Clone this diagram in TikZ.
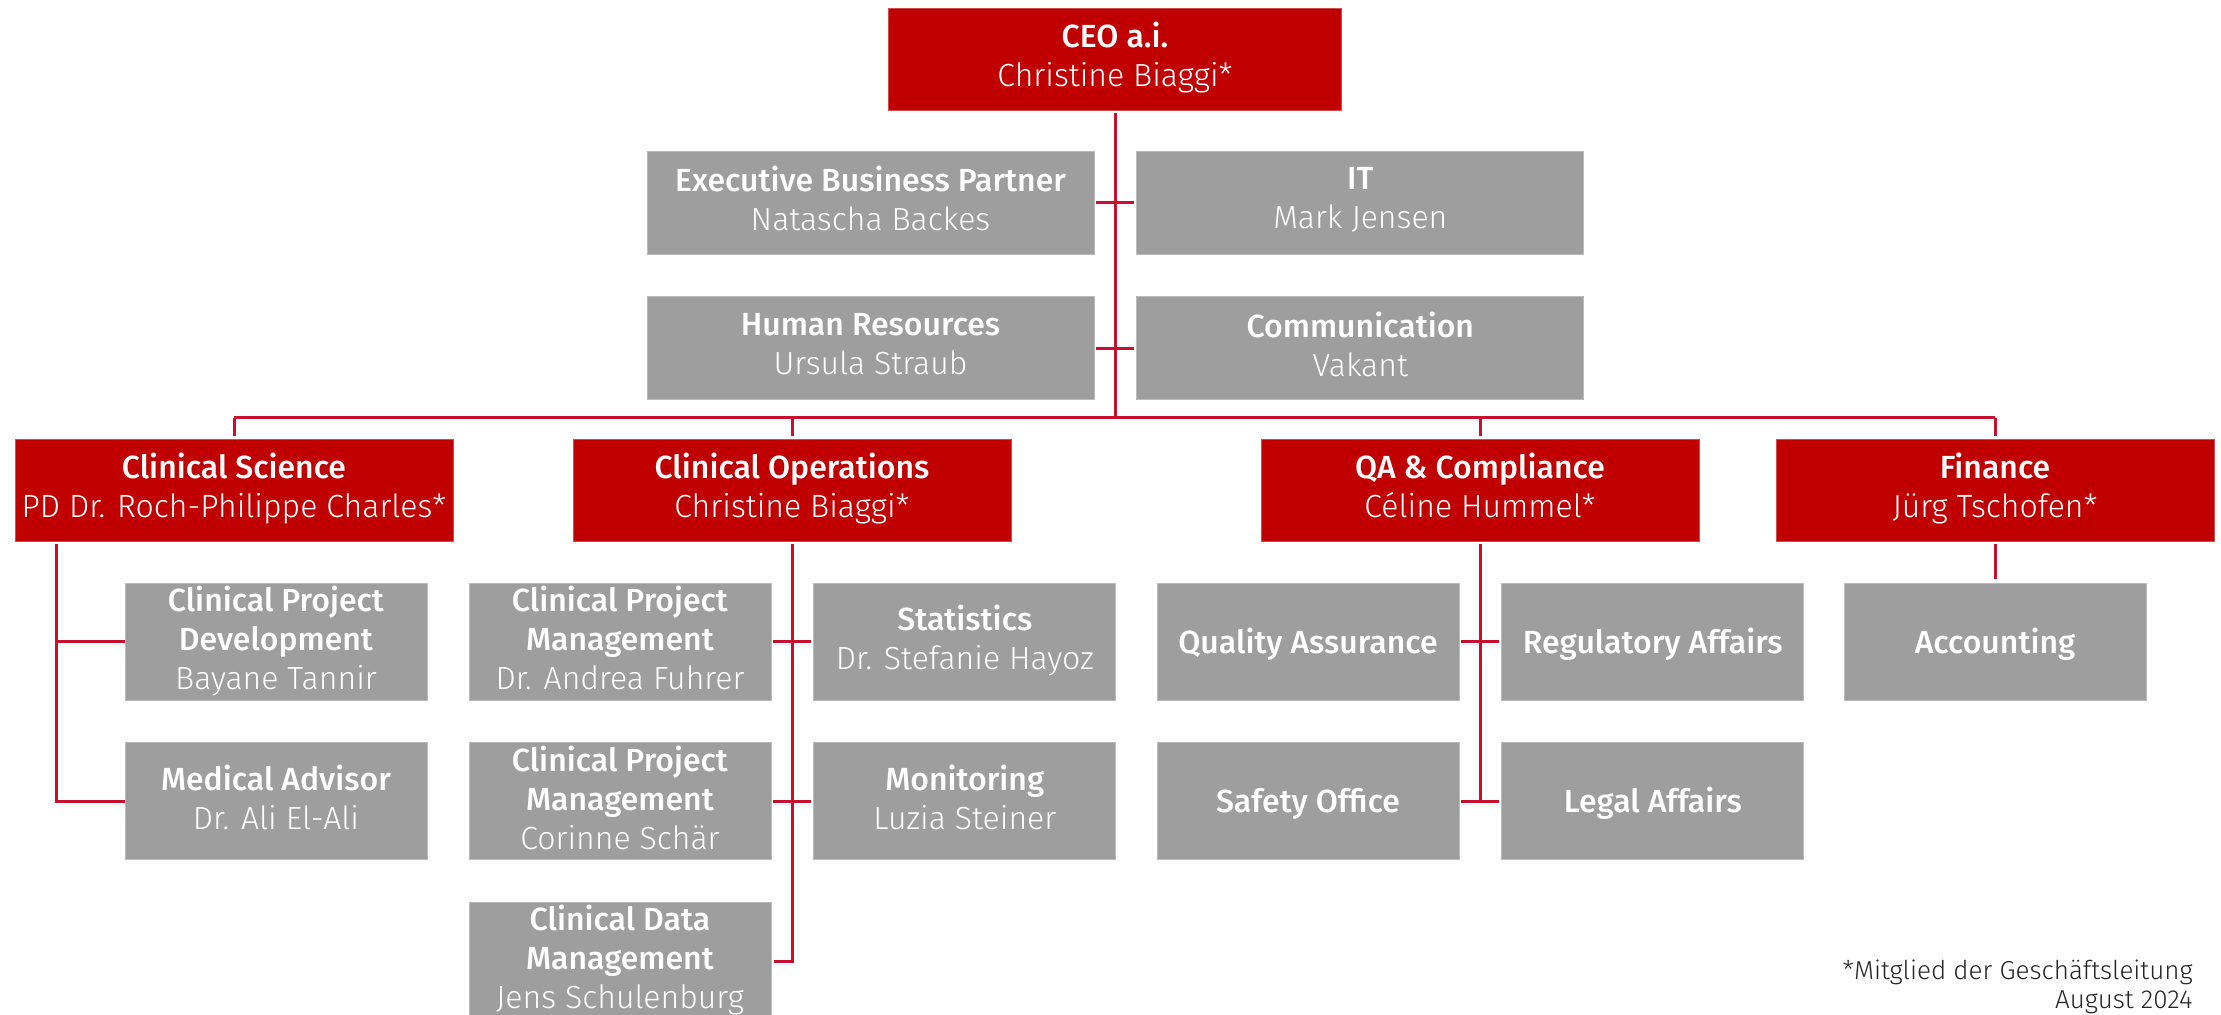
\documentclass[tikz,border=0pt]{standalone}
\usepackage{fontspec}
\setmainfont{Fira Sans Light}[BoldFont={Fira Sans Medium}]
\usetikzlibrary{positioning}

\definecolor{headred}{RGB}{192,0,0}
\definecolor{boxgray}{RGB}{158,158,158}
\definecolor{linkred}{RGB}{200,16,46}

\newcommand{\headstrut}{\rule[-4.5pt]{0pt}{23.5pt}}
\newcommand{\unitstrut}{\rule[-4pt]{0pt}{19.5pt}}

\begin{document}
\begin{tikzpicture}[
  x=0.5pt, y=-0.5pt,
  every node/.style = {font=\fontsize{16}{19.5}\selectfont, text=white, align=center, inner sep=0pt},
  head/.style = {fill=headred, draw=headred!70!white, line width=0.4pt, minimum width=219pt, minimum height=51pt,
    execute at begin node=\headstrut, execute at end node=\headstrut},
  staff/.style = {fill=boxgray, draw=boxgray!70!white, line width=0.4pt, minimum width=223.5pt, minimum height=51.5pt,
    execute at begin node=\headstrut, execute at end node=\headstrut},
  unit/.style = {fill=boxgray, draw=boxgray!70!white, line width=0.4pt, minimum width=151pt, minimum height=58.5pt,
    execute at begin node=\unitstrut, execute at end node=\unitstrut},
  link/.style = {draw=linkred, line width=1.5pt},
  node distance=21pt and 21pt
]
  \useasboundingbox (0,0) rectangle (2221,1015);
  \clip (0,0) rectangle (2221,1015);

  % top of the chart
  \node[head, minimum width=226.5pt] (ceo) at (1115,59) {\textbf{CEO a.i.}\\Christine Biaggi*};

  % staff units next to the CEO
  \node[staff] (ebp) at (870.5,202.5) {\textbf{Executive Business Partner}\\Natascha Backes};
  \node[staff, right=of ebp] (it) {\textbf{IT}\\Mark Jensen};
  \node[staff, below=of ebp] (hr) {\textbf{Human Resources}\\Ursula Straub};
  \node[staff, below=of it] (comm) {\textbf{Communication}\\Vakant};

  % departments
  \node[head] (cs) at (234,490) {\textbf{Clinical Science}\\PD Dr. Roch-Philippe Charles*};
  \node[head] (co) at (792,490) {\textbf{Clinical Operations}\\Christine Biaggi*};
  \node[head] (qa) at (1480,490) {\textbf{QA \& Compliance}\\Céline Hummel*};
  \node[head] (fin) at (1995,490) {\textbf{Finance}\\Jürg Tschofen*};

  % Clinical Science teams
  \node[unit] (cpd) at (276,641.5) {\textbf{Clinical Project}\\\textbf{Development}\\Bayane Tannir};
  \node[unit, below=of cpd] (ma) {\textbf{Medical Advisor}\\Dr. Ali El-Ali};

  % Clinical Operations teams
  \node[unit] (cpma) at (620,641.5) {\textbf{Clinical Project}\\\textbf{Management}\\Dr. Andrea Fuhrer};
  \node[unit, right=of cpma] (stat) {\textbf{Statistics}\\Dr. Stefanie Hayoz};
  \node[unit, below=of cpma] (cpmb) {\textbf{Clinical Project}\\\textbf{Management}\\Corinne Schär};
  \node[unit, right=of cpmb] (mon) {\textbf{Monitoring}\\Luzia Steiner};
  \node[unit, below=of cpmb] (cdm) {\textbf{Clinical Data}\\\textbf{Management}\\Jens Schulenburg};

  % QA & Compliance teams
  \node[unit] (qass) at (1308,641.5) {\textbf{Quality Assurance}};
  \node[unit, right=of qass] (reg) {\textbf{Regulatory Affairs}};
  \node[unit, below=of qass] (safe) {\textbf{Safety Office}};
  \node[unit, right=of safe] (legal) {\textbf{Legal Affairs}};

  % Finance team
  \node[unit] (acc) at (1995,641.5) {\textbf{Accounting}};

  % footnote
  \node[anchor=north east, align=right, text=black!85, font=\fontsize{13}{14.5}\selectfont] (note) at (2193,960) {*Mitglied der Geschäftsleitung\\August 2024};

  % lines from the CEO
  \coordinate (bus) at (1115,418);
  \draw[link, shorten <=1.5pt] (ceo.south) -- (ceo.south |- bus);
  \draw[link, shorten <=1pt, shorten >=1pt] (ebp.east) -- (it.west);
  \draw[link, shorten <=1pt, shorten >=1pt] (hr.east) -- (comm.west);
  \draw[link] (cs.north |- bus) -- (fin.north |- bus);
  \draw[link, shorten >=1.5pt] (cs.north |- bus) -- (cs.north);
  \draw[link, shorten >=1.5pt] (co.north |- bus) -- (co.north);
  \draw[link, shorten >=1.5pt] (qa.north |- bus) -- (qa.north);
  \draw[link, shorten >=1.5pt] (fin.north |- bus) -- (fin.north);

  % lines inside the departments
  \coordinate (csdrop) at ([xshift=21pt]cs.south west);
  \draw[link, shorten <=1.5pt] (csdrop) |- (ma.west);
  \draw[link] (csdrop |- cpd.west) -- (cpd.west);
  \draw[link, shorten <=1.5pt, shorten >=1.5pt] (co.south) |- (cdm.east);
  \draw[link, shorten <=1pt, shorten >=1pt] (cpma.east) -- (stat.west);
  \draw[link, shorten <=1pt, shorten >=1pt] (cpmb.east) -- (mon.west);
  \draw[link, shorten <=1.5pt] (qa.south) -- (qa.south |- safe.east);
  \draw[link, shorten <=1pt, shorten >=1pt] (qass.east) -- (reg.west);
  \draw[link, shorten <=1pt, shorten >=1pt] (safe.east) -- (legal.west);
  \draw[link, shorten <=1.5pt, shorten >=2pt] (fin.south) -- (acc.north);
\end{tikzpicture}
\end{document}
